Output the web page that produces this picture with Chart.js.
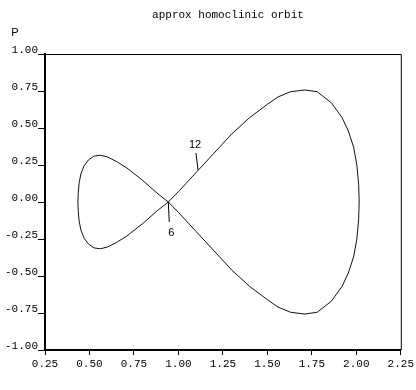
<!DOCTYPE html>
<html>
<head>
<meta charset="utf-8">
<script src="https://cdn.jsdelivr.net/npm/chart.js@4.4.0/dist/chart.umd.min.js"></script>
<style>
  html, body { margin: 0; padding: 0; background: #fff; }
</style>
</head>
<body>
<canvas id="myChart" width="416" height="390"></canvas>
<script>
// orbit points (q, p), traced as one closed figure eight
const orbitQ = [
  0.943, 1.0, 1.1, 1.2, 1.3, 1.4, 1.5, 1.56, 1.63, 1.71, 1.78, 1.86, 1.92, 1.955, 1.985, 2.003, 2.013, 2.016,
  2.013, 2.003, 1.985, 1.955, 1.92, 1.86, 1.78, 1.71, 1.63, 1.56, 1.5, 1.4, 1.3, 1.2, 1.1, 1.0, 0.943,
  0.88, 0.8, 0.71, 0.65, 0.6, 0.56, 0.525, 0.495, 0.47, 0.452, 0.442, 0.437, 0.435,
  0.437, 0.442, 0.452, 0.47, 0.495, 0.525, 0.56, 0.6, 0.65, 0.71, 0.8, 0.88, 0.943
];
const orbitP = [
  0, 0.07, 0.2, 0.33, 0.46, 0.57, 0.66, 0.71, 0.745, 0.757, 0.745, 0.67, 0.57, 0.48, 0.37, 0.25, 0.12, 0,
  -0.12, -0.25, -0.37, -0.48, -0.57, -0.67, -0.745, -0.757, -0.745, -0.71, -0.66, -0.57, -0.46, -0.33, -0.2, -0.07, 0,
  0.06, 0.145, 0.23, 0.275, 0.305, 0.316, 0.31, 0.285, 0.245, 0.19, 0.13, 0.065, 0,
  -0.065, -0.13, -0.19, -0.245, -0.285, -0.31, -0.316, -0.305, -0.275, -0.23, -0.145, -0.06, 0
];

const xTicks = [0.25, 0.5, 0.75, 1.0, 1.25, 1.5, 1.75, 2.0, 2.25];
const yTicks = [-1.0, -0.75, -0.5, -0.25, 0.0, 0.25, 0.5, 0.75, 1.0];

// numbered points on the orbit
const markText = ["6", "12"];
const markQ = [0.943, 1.11];
const markP = [0.0, 0.216];

const titleText = "approx homoclinic orbit";
const yName = "P";

const points = orbitQ.map((q, i) => ({ x: q, y: orbitP[i] }));

const monoFont = { family: "'Liberation Mono', 'DejaVu Sans Mono', monospace", size: 11 };

const extras = {
  id: "extras",
  afterDraw(chart) {
    const ctx = chart.ctx;
    const a = chart.chartArea;
    const xs = chart.scales.x;
    const ys = chart.scales.y;
    ctx.save();
    // top and right frame
    ctx.strokeStyle = "#000";
    ctx.lineWidth = 1;
    ctx.beginPath();
    ctx.moveTo(a.left, a.top + 0.5);
    ctx.lineTo(a.right + 0.5, a.top + 0.5);
    ctx.lineTo(a.right + 0.5, a.bottom);
    ctx.stroke();

    ctx.fillStyle = "#000";
    ctx.font = "11px 'Liberation Mono', monospace";
    ctx.textAlign = "center";
    ctx.textBaseline = "middle";
    ctx.fillText(titleText, 228, 15);

    ctx.font = "11px 'Liberation Sans Narrow', 'Liberation Sans', sans-serif";
    ctx.fillText(yName, 15, 33);

    // leader lines for the numbered points
    const leaders = [[1, 20, 3, 31], [-2, -17, -3, -25]];
    markText.forEach((t, i) => {
      const px = xs.getPixelForValue(markQ[i]);
      const py = ys.getPixelForValue(markP[i]);
      const l = leaders[i];
      ctx.beginPath();
      ctx.moveTo(px, py);
      ctx.lineTo(px + l[0], py + l[1]);
      ctx.stroke();
      ctx.fillText(t, px + l[2], py + l[3]);
    });
    ctx.restore();
  }
};

const ctx = document.getElementById("myChart").getContext("2d");
const myChart = new Chart(ctx, {
  type: "scatter",
  data: {
    datasets: [{
      data: points,
      showLine: true,
      borderColor: "#111",
      borderWidth: 1,
      pointRadius: 0,
      tension: 0,
      fill: false
    }]
  },
  options: {
    responsive: false,
    animation: false,
    devicePixelRatio: 1,
    layout: { padding: { top: 54, right: 13, left: 0, bottom: 0 } },
    plugins: { legend: { display: false }, tooltip: { enabled: false } },
    scales: {
      x: {
        type: "linear",
        min: 0.25,
        max: 2.25,
        afterBuildTicks: (s) => { s.ticks = xTicks.map((v) => ({ value: v })); },
        afterFit: (s) => { s.height = 40; },
        ticks: { color: "#000", font: monoFont, padding: 2, maxRotation: 0, callback: (v) => v.toFixed(2) },
        grid: { drawOnChartArea: false, color: "#000", tickLength: 5 },
        border: { color: "#000", width: 2 }
      },
      y: {
        type: "linear",
        min: -1,
        max: 1,
        afterBuildTicks: (s) => { s.ticks = yTicks.map((v) => ({ value: v })); },
        afterFit: (s) => { s.width = 45; },
        ticks: { color: "#000", font: monoFont, padding: 0, labelOffset: -4, callback: (v) => v.toFixed(2) },
        grid: { drawOnChartArea: false, color: "#000", tickLength: 7 },
        border: { color: "#000", width: 2 }
      }
    }
  },
  plugins: [extras]
});
</script>
</body>
</html>
